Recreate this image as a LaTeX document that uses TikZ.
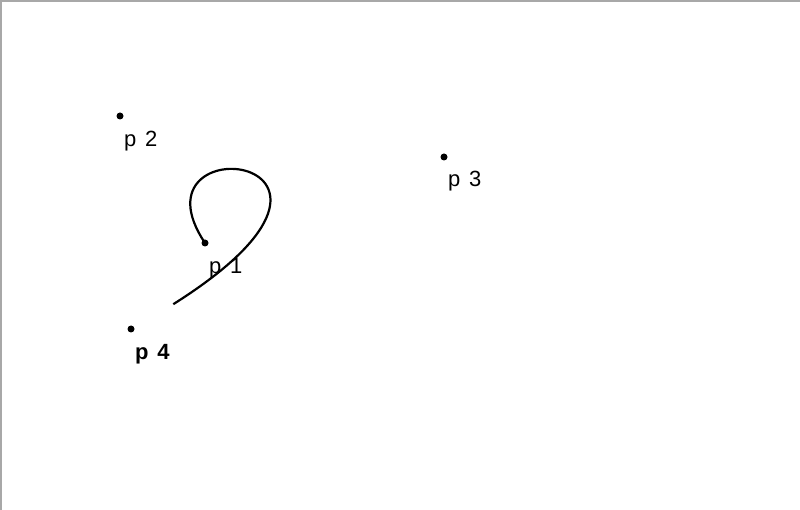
\documentclass[tikz,border=0pt]{standalone}
\usepackage{fontspec}
\setmainfont{Liberation Sans}
\usepackage{tikz}
\usetikzlibrary{calc}

\begin{document}
\begin{tikzpicture}[x=1pt, y=-1pt,
    pt/.style={circle, fill=black, inner sep=0pt, minimum size=7pt},
    lbl/.style={anchor=base west, inner sep=0pt, font=\fontsize{22}{26}\selectfont}]

    % Colour of the frame
    \definecolor{frame}{HTML}{A8A8A8}

    % === CANVAS ===
    \useasboundingbox (0,0) rectangle (800,510);
    \draw[frame, line width=2pt] (0,1) -- (800,1);
    \draw[frame, line width=1.5pt] (0.75,0) -- (0.75,510);

    % The four points
    \node[pt] (p1) at (205,243) {};
    \node[pt] (p2) at (120,116) {};
    \node[pt] (p3) at (444,157) {};
    \node[pt] (p4) at (131,329) {};

    % Labels under the points
    \node[lbl] (l1) at ($(p1.center)+(4,30.5)$) {p\hspace{.4em}1};
    \node[lbl] (l2) at ($(p2.center)+(4,30.5)$) {p\hspace{.4em}2};
    \node[lbl] (l3) at ($(p3.center)+(4,29.5)$) {p\hspace{.4em}3};
    \node[lbl, font=\fontsize{22}{26}\selectfont\bfseries] (l4) at ($(p4.center)+(4,30.5)$) {p\hspace{.4em}4};

    % Bezier p1 -> p4 (controls p2, p3), only drawn up to t = 0.95
    \def\tcut{0.95}
    \coordinate (a) at ($(p1.center)!\tcut!(p2.center)$);
    \coordinate (b) at ($(p2.center)!\tcut!(p3.center)$);
    \coordinate (c) at ($(p3.center)!\tcut!(p4.center)$);
    \coordinate (d) at ($(a)!\tcut!(b)$);
    \coordinate (e) at ($(b)!\tcut!(c)$);
    \coordinate (tip) at ($(d)!\tcut!(e)$);
    \draw[line width=2.2pt] (p1.center) .. controls (a) and (d) .. (tip);

\end{tikzpicture}
\end{document}
